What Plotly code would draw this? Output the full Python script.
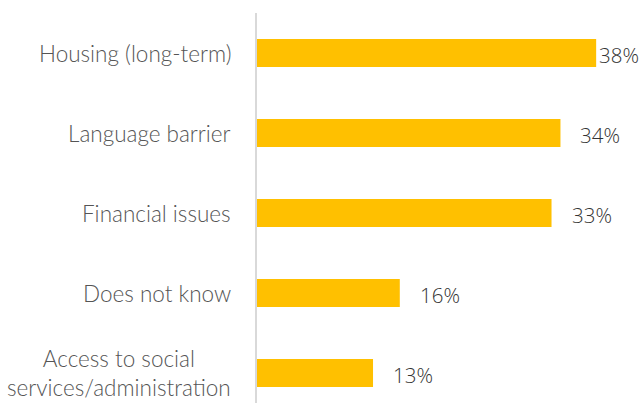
import plotly.graph_objects as go

# Reasons reported, with share of respondents (%)
categories = [
    "Housing (long-term)",
    "Language barrier",
    "Financial issues",
    "Does not know",
    "Access to social<br>services/administration",
]
shares = [38, 34, 33, 16, 13]
value_labels = [f"{v}%" for v in shares]

BAR_COLOR = "#FFC000"
LABEL_COLOR = "#555555"
VALUE_COLOR = "#333333"

W, H = 639, 403
M_L, M_R, M_T, M_B = 257, 0, 13, 0
X_MAX = 42.8

fig = go.Figure(
    go.Bar(
        x=shares,
        y=list(range(len(categories))),
        orientation="h",
        marker=dict(color=BAR_COLOR, line=dict(width=0)),
        width=0.35,
        hoverinfo="skip",
    )
)

# px per unit along x, used to keep value labels inside the canvas
px_per_unit = (W - M_L - M_R) / X_MAX
label_w = 42
for i, (v, txt) in enumerate(zip(shares, value_labels)):
    room = (X_MAX - v) * px_per_unit - label_w
    shift = max(1, min(18, room))
    fig.add_annotation(
        x=v, y=i, xref="x", yref="y", text=txt, showarrow=False,
        xanchor="left", yanchor="middle", xshift=shift, yshift=-2,
        font=dict(family="Open Sans", size=20.5, color=VALUE_COLOR, weight=300),
    )

for i, name in enumerate(categories):
    fig.add_annotation(
        x=0, y=i, xref="x", yref="y", text=name, showarrow=False,
        xanchor="right", yanchor="middle", xshift=-24, align="center",
        font=dict(family="Lato", size=22.5, color=LABEL_COLOR, weight=300),
    )

fig.update_layout(
    width=W, height=H,
    margin=dict(l=M_L, r=M_R, t=M_T, b=M_B),
    paper_bgcolor="white", plot_bgcolor="white",
    showlegend=False,
    xaxis=dict(range=[0, X_MAX], visible=False, fixedrange=True),
    yaxis=dict(
        range=[len(categories) - 0.625, -0.5],
        showticklabels=False, showgrid=False, zeroline=False,
        showline=True, linecolor="#D9D9D9", linewidth=2,
        ticks="", fixedrange=True,
    ),
)

fig.write_html("out.html")
